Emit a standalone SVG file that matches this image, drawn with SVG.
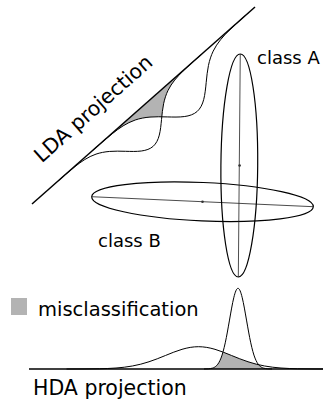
<svg xmlns="http://www.w3.org/2000/svg" xmlns:xlink="http://www.w3.org/1999/xlink" width="323" height="401" viewBox="0 0 323 401">
<style>
  .axis { fill: none; stroke: #000; stroke-width: 1.5; }
  .curve { fill: none; stroke: #000; stroke-width: 1; }
  .ell { fill: none; stroke: #000; stroke-width: 1.2; }
  .major { fill: none; stroke: #222; stroke-width: 0.8; }
  .dot { fill: #333; }
  .shade { fill: #b3b3b3; stroke: none; }
  text { font-family: "DejaVu Sans", "Liberation Sans", sans-serif; fill: #000; }
</style>
<defs>
  <path id="gauss" vector-effect="non-scaling-stroke" d="M-4,-0.00034 C-3.833,-0.00056 -3.667,-0.00091 -3.5,-0.00219 C-3.333,-0.00347 -3.167,-0.00555 -3,-0.01111 C-2.833,-0.01667 -2.667,-0.02563 -2.5,-0.04394 C-2.333,-0.06225 -2.167,-0.09023 -2,-0.13534 C-1.833,-0.18045 -1.667,-0.24349 -1.5,-0.32465 C-1.333,-0.40581 -1.167,-0.50544 -1,-0.60653 C-0.833,-0.70762 -0.667,-0.80896 -0.5,-0.8825 C-0.333,-0.95604 -0.167,-1 0,-1 C0.167,-1 0.333,-0.95604 0.5,-0.8825 C0.667,-0.80896 0.833,-0.70762 1,-0.60653 C1.167,-0.50544 1.333,-0.40581 1.5,-0.32465 C1.667,-0.24349 1.833,-0.18045 2,-0.13534 C2.167,-0.09023 2.333,-0.06225 2.5,-0.04394 C2.667,-0.02563 2.833,-0.01667 3,-0.01111 C3.167,-0.00555 3.333,-0.00347 3.5,-0.00219 C3.667,-0.00091 3.833,-0.00056 4,-0.00034"/>
</defs>

<g id="lda" transform="translate(32,204) rotate(-41.46)">
  <path class="shade" d="M105,0 L105,0.35 110,0.62 115,1.07 120,1.76 125,2.79 130,4.27 135,6.30 140,8.94 145,12.25 147.5,14.14 150,16.16 152.5,18.31 155,20.56 157.5,18.28 160,16.06 162.5,13.97 165,12.01 170,8.60 175,5.89 180,3.87 185,2.43 190,1.46 195,0.84 200,0.47 205,0.25 L205,0 Z"/>
  <use xlink:href="#gauss" class="curve" transform="translate(129,0) scale(24,-37)"/>
  <use xlink:href="#gauss" class="curve" transform="translate(185,0) scale(26,-40)"/>
  <path class="axis" d="M0,0 L297.6,0"/>
  <text x="109" y="-24" text-anchor="middle" font-size="20.5">LDA projection</text>
</g>

<g id="class-b">
  <g transform="rotate(2.58,202.5,201.7)">
    <ellipse class="ell" cx="202.5" cy="201.7" rx="110.9" ry="19.2"/>
    <path class="major" d="M91.6,201.7 L313.4,201.7"/>
  </g>
  <circle class="dot" cx="202.5" cy="201.7" r="1.3"/>
  <text x="98" y="246.5" font-size="18">class B</text>
</g>

<g id="class-a">
  <g transform="rotate(0.5,239.3,165.5)">
    <ellipse class="ell" cx="239.3" cy="165.5" rx="18.4" ry="111.5"/>
    <path class="major" d="M239.3,54 L239.3,277"/>
  </g>
  <circle class="dot" cx="239.6" cy="165.5" r="1.3"/>
  <text x="257" y="64" font-size="18">class A</text>
</g>

<g id="legend">
  <rect class="shade" x="11" y="298" width="16" height="17"/>
  <text x="38" y="315.5" font-size="19.5">misclassification</text>
</g>

<g id="hda">
  <path class="shade" d="M210,369 L210,368.65 212,368.25 214,367.5 216,366.17 218,363.93 219,362.37 220,360.43 221,358.08 222,355.28 223,352.0 224,352.46 228,354.05 232,355.68 236,357.31 240,358.89 244,360.38 248,361.76 252,363.01 256,364.11 258.7,364.8 260,366.17 262,367.5 264,368.25 266,368.65 268,368.84 L268,369 Z"/>
  <use xlink:href="#gauss" class="curve" transform="translate(198.5,369) scale(33,22.3)"/>
  <use xlink:href="#gauss" class="curve" transform="translate(238,369) scale(8.5,80.7)"/>
  <path class="axis" d="M29,369 L323,369"/>
  <text x="33" y="395" font-size="20.5">HDA projection</text>
</g>
</svg>
